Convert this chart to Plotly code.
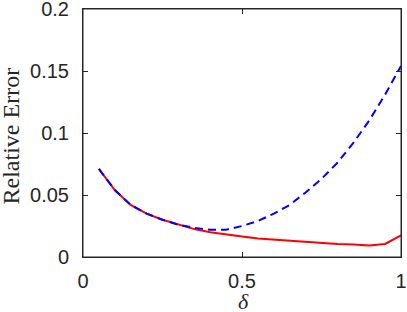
import plotly.graph_objects as go

delta = [0.05, 0.10, 0.15, 0.20, 0.25, 0.30, 0.35, 0.40, 0.45, 0.50,
         0.55, 0.60, 0.65, 0.70, 0.75, 0.80, 0.85, 0.90, 0.95, 1.00]
err_red = [0.071, 0.054, 0.042, 0.035, 0.030, 0.026, 0.0225, 0.020, 0.018, 0.0165,
           0.015, 0.014, 0.013, 0.012, 0.011, 0.0105, 0.010, 0.0093, 0.0105, 0.0175]
err_blue = [0.071, 0.054, 0.042, 0.035, 0.030, 0.026, 0.0235, 0.022, 0.022, 0.025,
            0.029, 0.035, 0.042, 0.052, 0.063, 0.076, 0.092, 0.110, 0.131, 0.154]
x_ticks = [0, 0.5, 1]
x_tick_labels = ["0", "0.5", "1"]
y_ticks = [0, 0.05, 0.1, 0.15, 0.2]
y_tick_labels = ["0", "0.05", "0.1", "0.15", "0.2"]

fig = go.Figure()
fig.add_trace(go.Scatter(x=delta, y=err_red, mode="lines",
                         line=dict(color="#ff0000", width=2), showlegend=False))
fig.add_trace(go.Scatter(x=delta, y=err_blue, mode="lines",
                         line=dict(color="#0000ff", width=2, dash="8px,5px"), showlegend=False))

axis_common = dict(showgrid=False, zeroline=False, showline=True, mirror="allticks",
                   linecolor="#262626", linewidth=1, ticks="inside", ticklen=5,
                   tickwidth=1, tickcolor="#262626", ticklabeloverflow="allow", automargin=False,
                   tickfont=dict(family="Liberation Sans", size=20, color="#262626"))
fig.update_xaxes(range=[0, 1], tickvals=x_ticks, ticktext=x_tick_labels,
                 ticklabelstandoff=6, **axis_common)
fig.update_yaxes(range=[0, 0.2], tickvals=y_ticks, ticktext=y_tick_labels,
                 ticklabelstandoff=9, **axis_common)

# frame around the plotting area
fig.add_shape(type="rect", xref="paper", yref="paper", x0=0, y0=0, x1=1, y1=1,
              line=dict(color="#262626", width=1), layer="above")

fig.add_annotation(text="Relative Error", xref="paper", yref="paper", x=-0.2264, y=0.486,
                   xanchor="center", yanchor="middle", textangle=-90, showarrow=False,
                   font=dict(family="Liberation Serif", size=24, color="#262626"))
fig.add_annotation(text="<i>δ</i>", xref="paper", yref="paper", x=0.506, y=-0.181,
                   xanchor="center", yanchor="middle", showarrow=False,
                   font=dict(family="Liberation Serif", size=22, color="#262626"))

fig.update_layout(width=407, height=312, margin=dict(l=83, r=6, t=9, b=55),
                  plot_bgcolor="white", paper_bgcolor="white")
fig.write_html("out.html", config={"displayModeBar": False},
               post_script="document.body.style.margin='0';")
